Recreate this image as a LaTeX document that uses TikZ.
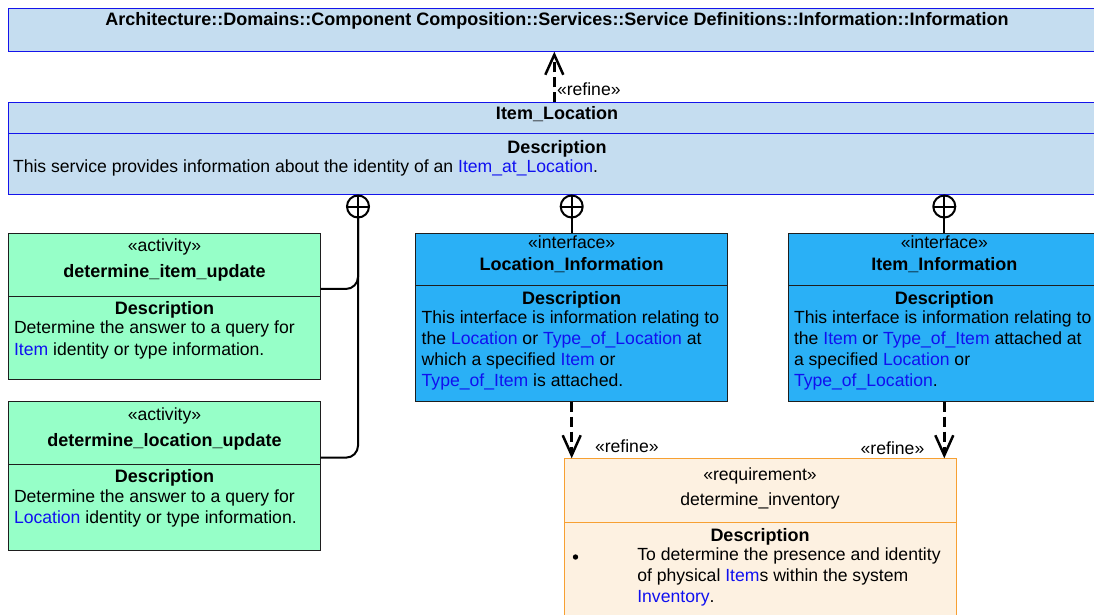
\documentclass[tikz,border=0pt]{standalone}
\usepackage{fontspec}
\setmainfont{Liberation Sans}
\usetikzlibrary{arrows.meta,calc}

\definecolor{svcfill}{RGB}{197,221,240}
\definecolor{svcline}{RGB}{20,20,235}
\definecolor{actfill}{RGB}{150,255,200}
\definecolor{ifcfill}{RGB}{42,176,246}
\definecolor{reqfill}{RGB}{253,241,225}
\definecolor{reqline}{RGB}{247,160,50}
\definecolor{linkblue}{RGB}{16,16,240}
\definecolor{edgegray}{RGB}{30,30,30}

\newcommand{\lnk}[1]{\textcolor{linkblue}{#1}}

\begin{document}
\begin{tikzpicture}[x=1pt,y=-1pt,
  every node/.style={font=\fontsize{17.6}{21}\selectfont, inner sep=0pt, outer sep=0pt},
  box/.style={draw, anchor=north west, line width=1pt},
  svcbox/.style={box, fill=svcfill, draw=svcline},
  actbox/.style={box, fill=actfill, draw=edgegray, minimum width=312.4pt},
  ifcbox/.style={box, fill=ifcfill, draw=edgegray, minimum width=312pt, minimum height=168.4pt},
  reqbox/.style={box, fill=reqfill, draw=reqline},
  ctr/.style={anchor=base},
  bctr/.style={anchor=base, font=\fontsize{18}{21}\selectfont\bfseries},
  txt/.style={anchor=base west},
  nest/.style={line width=2pt, draw=black},
  nestcircle/.style={circle, draw=black, line width=2pt, minimum size=22pt, fill=white},
  refine/.style={line width=3pt, dash pattern=on 10pt off 5pt,
    -{Straight Barb[length=20pt,width=18pt,line width=2.5pt]}},
]
\useasboundingbox (0,0) rectangle (1094,614);
\clip (0,0) rectangle (1094,614);

% ---- package header ----
\node[svcbox, minimum width=1098pt, minimum height=43.4pt] (pkg) at (8.3,8.3) {};
\node[bctr] (pkgtitle) at (557,25) {Architecture::Domains::Component Composition::Services::Service Definitions::Information::Information};

% ---- Item_Location service ----
\node[svcbox, minimum width=1098pt, minimum height=91.7pt] (iloc) at (8.3,102.3) {};
\draw[svcline, line width=1pt] (8.3,133.3) -- (1106.3,133.3);
\node[bctr] (iloctitle) at (557,119) {Item\_Location};
\node[bctr] (ilocdh) at (557,153) {Description};
\node[txt] (iloctxt) at (13,172) {This service provides information about the identity of an \lnk{Item\_at\_Location}.};

% ---- activities ----
\node[actbox, minimum height=145.7pt] (act1) at (8.3,233.3) {};
\draw[edgegray, line width=1pt] (8.3,296) -- (320.7,296);
\node[ctr] (act1st) at (164.5,251.7) {«activity»};
\node[bctr] (act1nm) at (164.5,277.3) {determine\_item\_update};
\node[bctr] (act1dh) at (164.5,314) {Description};
\node[txt] (act1l1) at (14,333.3) {Determine the answer to a query for};
\node[txt] (act1l2) at (14,355) {\lnk{Item} identity or type information.};

\node[actbox, minimum height=148.3pt] (act2) at (8.3,401.7) {};
\draw[edgegray, line width=1pt] (8.3,464) -- (320.7,464);
\node[ctr] (act2st) at (164.5,420) {«activity»};
\node[bctr] (act2nm) at (164.5,446.7) {determine\_location\_update};
\node[bctr] (act2dh) at (164.5,482.3) {Description};
\node[txt] (act2l1) at (14,502.7) {Determine the answer to a query for};
\node[txt] (act2l2) at (14,523.3) {\lnk{Location} identity or type information.};

% ---- interfaces ----
\node[ifcbox] (ifc1) at (415.7,233.3) {};
\draw[edgegray, line width=1pt] (415.7,285) -- (727.7,285);
\node[ctr] (ifc1st) at (571.7,248.3) {«interface»};
\node[bctr] (ifc1nm) at (571.7,270) {Location\_Information};
\node[bctr] (ifc1dh) at (571.7,304) {Description};
\node[txt] (ifc1l1) at (421.7,323.3) {This interface is information relating to};
\node[txt] (ifc1l2) at (421.7,344.5) {the \lnk{Location} or \lnk{Type\_of\_Location} at};
\node[txt] (ifc1l3) at (421.7,365.7) {which a specified \lnk{Item} or};
\node[txt] (ifc1l4) at (421.7,386.7) {\lnk{Type\_of\_Item} is attached.};

\node[ifcbox] (ifc2) at (788.3,233.3) {};
\draw[edgegray, line width=1pt] (788.3,285) -- (1100.3,285);
\node[ctr] (ifc2st) at (944.3,248.3) {«interface»};
\node[bctr] (ifc2nm) at (944.3,270) {Item\_Information};
\node[bctr] (ifc2dh) at (944.3,304) {Description};
\node[txt] (ifc2l1) at (794,323.3) {This interface is information relating to};
\node[txt] (ifc2l2) at (794,344.5) {the \lnk{Item} or \lnk{Type\_of\_Item} attached at};
\node[txt] (ifc2l3) at (794,365.7) {a specified \lnk{Location} or};
\node[txt] (ifc2l4) at (794,386.7) {\lnk{Type\_of\_Location}.};

% ---- requirement ----
\node[reqbox, minimum width=392pt, minimum height=200pt] (req) at (564,458.3) {};
\draw[reqline, line width=1pt] (564,522.3) -- (956,522.3);
\node[ctr] (reqst) at (760,480) {«requirement»};
\node[ctr] (reqnm) at (760,505) {determine\_inventory};
\node[bctr] (reqdh) at (760,541.7) {Description};
\node[circle, fill=black, minimum size=5.4pt] (bul) at (575.5,557) {};
\node[txt] (reql1) at (637.3,560.7) {To determine the presence and identity};
\node[txt] (reql2) at (637.3,581.7) {of physical \lnk{Item}s within the system};
\node[txt] (reql3) at (637.3,602.3) {\lnk{Inventory}.};

% ---- nesting connectors ----
\node[nestcircle] (cp1) at (358,206.5) {};
\node[nestcircle] (cp2) at (571.7,206.5) {};
\node[nestcircle] (cp3) at (944.3,206.5) {};
\foreach \c in {cp1,cp2,cp3}{
  \draw[nest] (\c.north) -- (\c.south) (\c.west) -- (\c.east);
}
\draw[nest, rounded corners=12pt] ([yshift=17.2pt]act1.east) -| (cp1.south);
\draw[nest, rounded corners=12pt] ([yshift=18.2pt]act2.east) -| (cp1.south);
\draw[nest] (cp2.south) -- (ifc1.north);
\draw[nest] (cp3.south) -- (ifc2.north);

% ---- refine dependencies ----
\draw[refine] ([xshift=-3pt]iloc.north) -- ([xshift=-3pt]iloc.north |- pkg.south);
\node[txt] (rf0) at (557,95) {«refine»};
\draw[refine] (ifc1.south) -- (ifc1.south |- req.north);
\node[txt] (rf1) at (595,452.7) {«refine»};
\draw[refine] (ifc2.south) -- (ifc2.south |- req.north);
\node[txt] (rf2) at (860.7,454.3) {«refine»};
\end{tikzpicture}
\end{document}
